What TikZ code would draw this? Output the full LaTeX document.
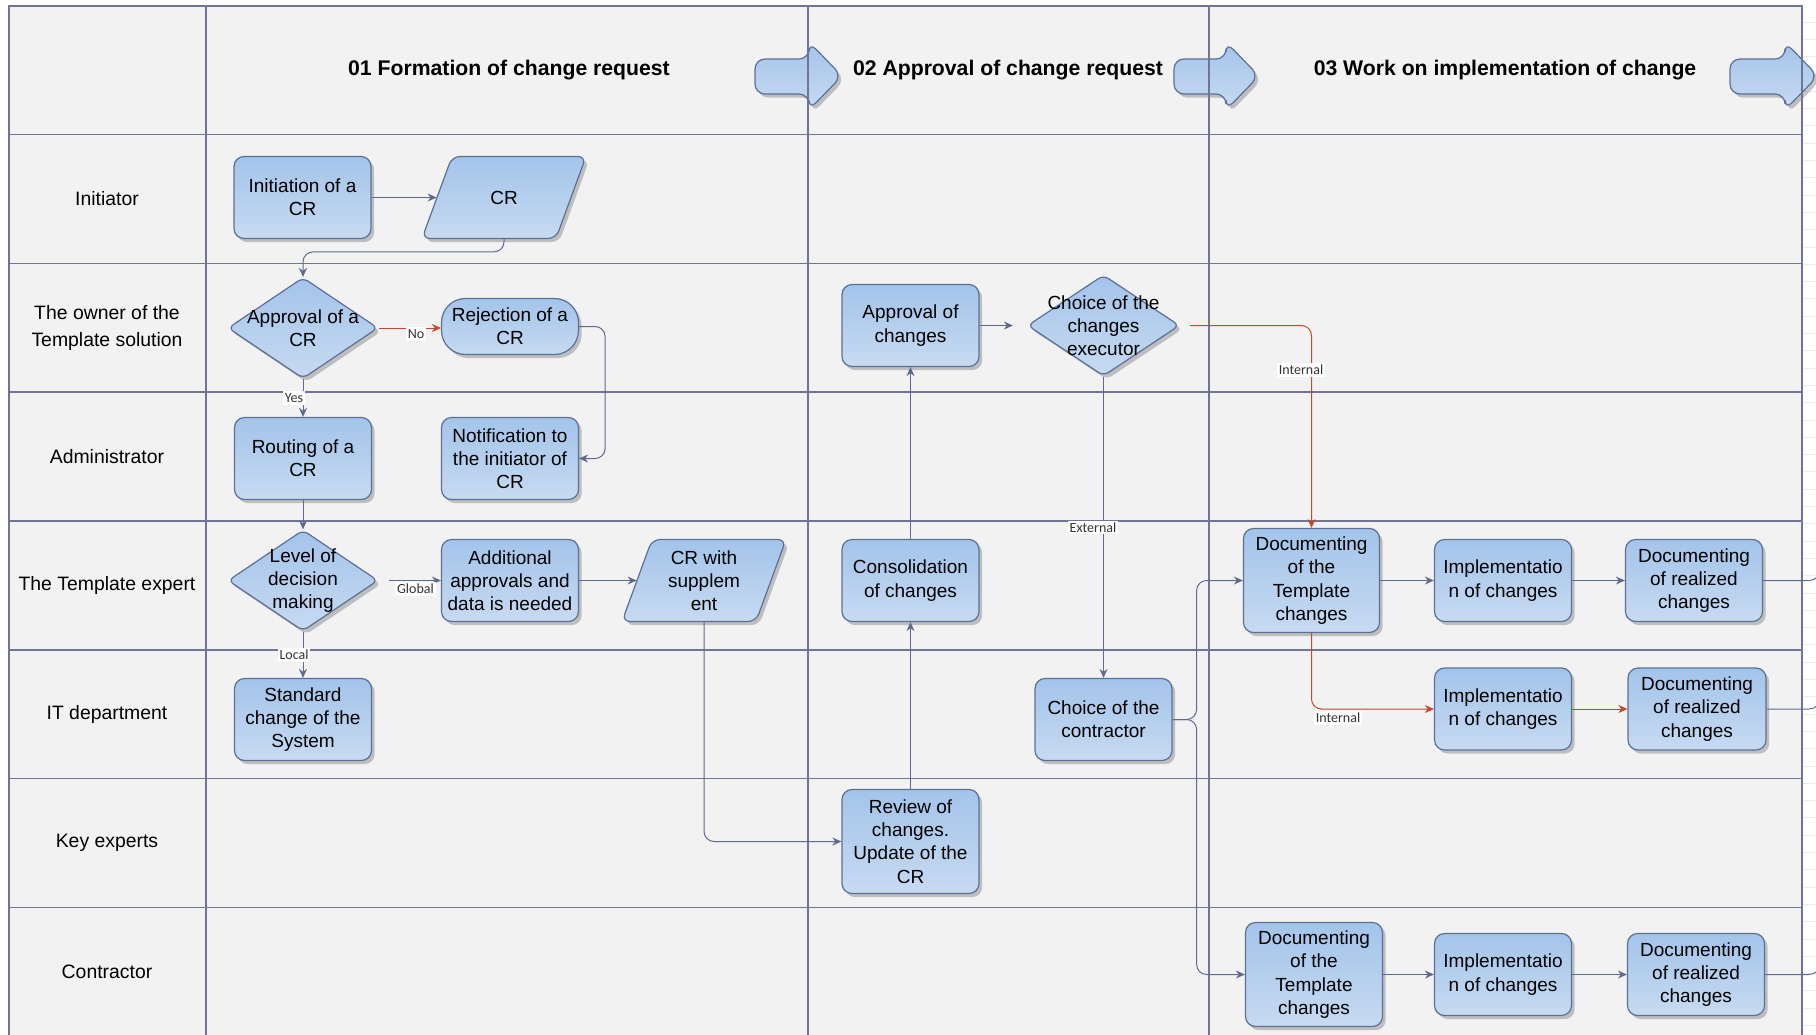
\documentclass[tikz,border=0pt]{standalone}
\usepackage{fontspec}
\setmainfont{Liberation Sans}
\newfontfamily\tagfamily{Carlito}
\usetikzlibrary{shapes.geometric,shadows,arrows.meta,calc}

\definecolor{sheet}{RGB}{242,242,242}
\definecolor{gridcol}{RGB}{112,117,152}
\definecolor{boxtop}{RGB}{163,196,234}
\definecolor{boxbot}{RGB}{199,218,241}
\definecolor{boxedge}{RGB}{92,112,150}
\definecolor{wirecol}{RGB}{96,106,140}
\definecolor{hotcol}{RGB}{192,74,44}

\newcommand\cellfont{\fontsize{9.5}{11.6}\selectfont}
\newcommand\lanefont{\fontsize{9.7}{13.3}\selectfont}
\newcommand\headfont{\fontsize{10.6}{12}\selectfont\bfseries}
\newcommand\tagfont{\tagfamily\fontsize{7}{8}\selectfont}

\tikzset{
  boxshade/.style={top color=boxtop, bottom color=boxbot, draw=boxedge, line width=0.6pt,
    drop shadow={shadow xshift=1.6pt, shadow yshift=-1.8pt, fill=black!45, opacity=0.5}},
  proc/.style={boxshade, rectangle, rounded corners=5pt, minimum width=68.5pt,
    minimum height=41pt, inner sep=1pt, align=center, font=\cellfont},
  tallproc/.style={proc, minimum height=52pt},
  pill/.style={proc, rounded corners=12pt, minimum height=28pt},
  dec/.style={boxshade, diamond, rounded corners=3pt, minimum width=75pt,
    minimum height=50.5pt, inner sep=0pt},
  celltext/.style={align=center, font=\cellfont, inner sep=0pt},
  paraslot/.style={rectangle, minimum width=67pt, minimum height=41pt, inner sep=0pt,
    align=center, font=\cellfont},
  lane/.style={align=center, font=\lanefont},
  head/.style={font=\headfont},
  gridline/.style={draw=gridcol, line width=0.8pt},
  wire/.style={draw=wirecol, line width=0.5pt, -{Stealth[length=4.5pt,width=4pt]}},
  hot/.style={wire, draw=hotcol},
  plainwire/.style={draw=wirecol, line width=0.5pt},
  tag/.style={fill=white, inner sep=1pt, font=\tagfont, text=black!80},
}

% parallelogram (data) box: name, centre x, centre y, text
\newcommand\paragram[4]{%
  \path[boxshade, rounded corners=4pt]
    (#2-52,#3-41) -- (#2+82,#3-41) -- (#2+52,#3+41) -- (#2-82,#3+41) -- cycle;
  \node[paraslot] (#1) at (#2,#3) {#4};}

% phase arrow in the header: tail start, head base, tip
\newcommand\phasearrow[3]{%
  \path[boxshade, rounded corners=5pt]
    (#1,59) -- (#2,59) -- (#2,42) -- (#3,76) -- (#2,110) -- (#2,94) -- (#1,94) -- cycle;}

\begin{document}
\begin{tikzpicture}[x=0.5pt,y=-0.5pt]
\useasboundingbox (0,0) rectangle (1816,1034);

% sheet and faint ruler lines beside it
\fill[sheet] (9,6) rectangle (1802,1040);
\foreach \k in {0,...,58}
  \draw[black!8, line width=0.4pt] (1803,22+\k*17.3) -- (1816,22+\k*17.3);

% phase arrows
\phasearrow{755}{809}{842}
\phasearrow{1174}{1226}{1259}
\phasearrow{1730}{1785}{1818}

% swimlane grid
\draw[gridline] (9,1040) -- (9,6) -- (1802,6) -- (1802,1040);
\foreach \gx in {206,808,1209}
  \draw[gridline] (\gx,6) -- (\gx,1040);
\foreach \gy in {134.5,263.3,392.1,520.9,649.7,778.5,907.3}
  \draw[gridline] (9,\gy) -- (1802,\gy);

% phase titles
\node[head] (ph1) at (509,70) {01 Formation of change request};
\node[head] (ph2) at (1008,70) {02 Approval of change request};
\node[head] (ph3) at (1505,70) {03 Work on implementation of change};

% lane titles
\node[lane] (lane1) at (107,199) {Initiator};
\node[lane] (lane2) at (107,327.7) {The owner of the\\Template solution};
\node[lane] (lane3) at (107,456.5) {Administrator};
\node[lane] (lane4) at (107,585.3) {The Template expert};
\node[lane] (lane5) at (107,714.1) {IT department};
\node[lane] (lane6) at (107,843) {Key experts};
\node[lane] (lane7) at (107,971.7) {Contractor};

% phase 01
\node[proc] (init) at (302.5,197.5) {Initiation of a\\CR};
\paragram{cr}{504}{197.5}{CR}
\node[dec] (appr) at (303,328) {};
\node[celltext] (apprtx) at (appr) {Approval of a\\CR};
\node[pill] (rej) at (510,326.5) {Rejection of a\\CR};
\node[proc] (route) at (303,458.5) {Routing of a\\CR};
\node[proc] (notif) at (510,458.5) {Notification to\\the initiator of\\CR};
\node[dec] (level) at (303,580.5) {};
\node[celltext] (leveltx) at (level) {Level of\\decision\\making};
\node[proc] (addl) at (510,580.5) {Additional\\approvals and\\data is needed};
\paragram{crsup}{704}{580.5}{CR with\\supplem\\ent}
\node[proc] (std) at (303,719.5) {Standard\\change of the\\System};

% phase 02
\node[proc] (apch) at (910.5,325.5) {Approval of\\changes};
\node[dec, minimum width=76pt] (choice) at (1103.5,325.5) {};
\node[celltext] (choicetx) at (choice) {Choice of the\\changes\\executor};
\node[proc] (consol) at (910.5,580.5) {Consolidation\\of changes};
\node[tallproc] (review) at (910.5,841.5) {Review of\\changes.\\Update of the\\CR};
\node[proc] (contr) at (1103.5,719.5) {Choice of the\\contractor};

% phase 03
\node[tallproc, minimum width=68pt] (docA) at (1311.5,580.5) {Documenting\\of the\\Template\\changes};
\node[proc] (implA) at (1503,580.5) {Implementatio\\n of changes};
\node[proc] (realA) at (1694,580.5) {Documenting\\of realized\\changes};
\node[proc] (implB) at (1503,709) {Implementatio\\n of changes};
\node[proc, minimum width=69pt] (realB) at (1697,709) {Documenting\\of realized\\changes};
\node[tallproc] (docC) at (1314,974.5) {Documenting\\of the\\Template\\changes};
\node[proc] (implC) at (1503,974.5) {Implementatio\\n of changes};
\node[proc] (realC) at (1696,974.5) {Documenting\\of realized\\changes};

% free ends leaving the sheet on the right
\coordinate (exitA) at (1821,520);
\coordinate (exitB) at (1821,650);
\coordinate (exitC) at (1821,915);

% connectors
\draw[wire] (init) -- (cr);
\draw[wire, rounded corners=5pt] (cr.south) -- ++(0,13) -| (appr.north);
\draw[hot] (appr.east) -- (appr.east -| rej.west);
\draw[wire] (appr.south) -- (route.north);
\draw[wire, rounded corners=5pt] (rej.east) -- ++(26,0) |- (notif.east);
\draw[wire] (route.south) -- (level.north);
\draw[wire, shorten <=5pt] (level.east) -- (addl.west);
\draw[wire] (level.south) -- (std.north);
\draw[wire] (addl) -- (crsup);
\draw[wire, rounded corners=5pt] (crsup.south) |- (review.west);
\draw[wire] (review) -- (consol);
\draw[wire] (consol) -- (apch);
\draw[wire, shorten >=7pt] (apch) -- (choice);
\draw[hot, rounded corners=5pt, shorten <=5pt] (choice.east) -| (docA.north);
\draw[wire] (choice) -- (contr);
\draw[wire, rounded corners=5pt] (contr.east) -- ++(24,0) |- (docA.west);
\draw[wire, rounded corners=5pt] (contr.east) -- ++(24,0) |- (docC.west);
\draw[wire] (docA) -- (implA);
\draw[wire] (implA) -- (realA);
\draw[hot, rounded corners=5pt] (docA.south) |- (implB.west);
\draw[hot] (implB) -- (realB);
\draw[wire] (docC) -- (implC);
\draw[wire] (implC) -- (realC);
\draw[plainwire, rounded corners=6pt] (realA.east) -| (exitA);
\draw[plainwire, rounded corners=6pt] (realB.east) -| (exitB);
\draw[plainwire, rounded corners=6pt] (realC.east) -| (exitC);

% connector labels
\node[tag] (tNo) at (416,334) {No};
\node[tag] (tYes) at (294,398) {Yes};
\node[tag] (tGlobal) at (415.5,589) {Global};
\node[tag] (tLocal) at (294,655) {Local};
\node[tag] (tIntA) at (1301,370) {Internal};
\node[tag] (tExt) at (1093,527.5) {External};
\node[tag] (tIntB) at (1338,718) {Internal};
\end{tikzpicture}
\end{document}
